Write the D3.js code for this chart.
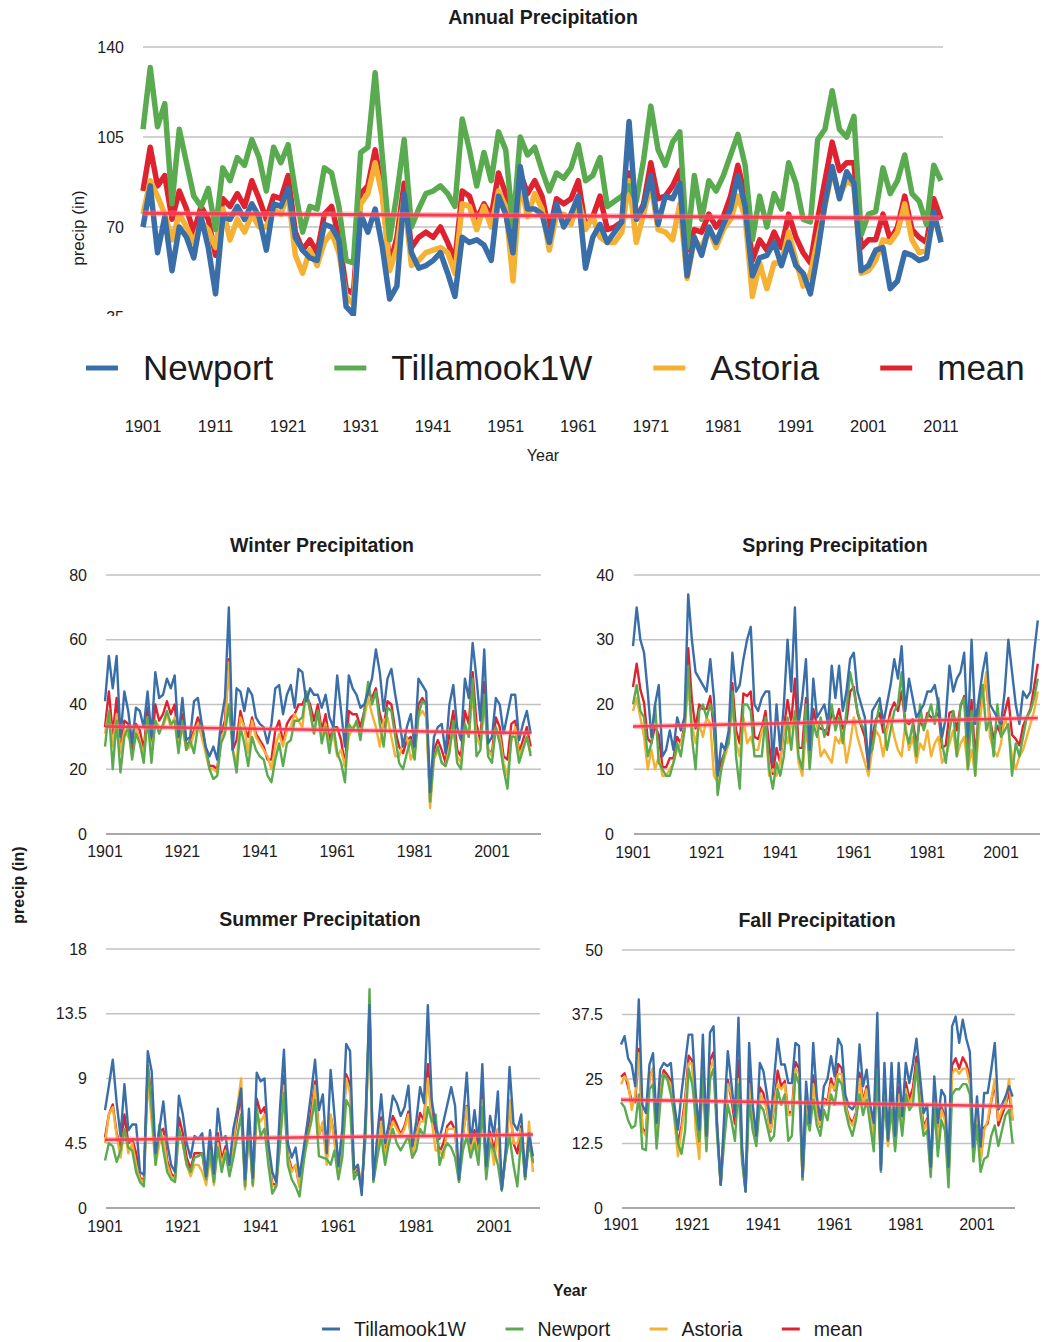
<!DOCTYPE html>
<html>
<head>
<meta charset="utf-8">
<script src="https://cdn.jsdelivr.net/npm/d3@7"></script>
<style>
body { margin: 0; background: #fff; }
text { font-family: "Liberation Sans", Arial, sans-serif; fill: #1c1c1c; }
</style>
</head>
<body>
<div class="canvas"></div>
<script>
const years = d3.range(1901, 2012)

// ---- annual data (inches) ----
const annNames = ["Newport", "Tillamook1W", "Astoria", "mean"]
const annNewport = [70,86,60,74,53,70,66,58,74,62, 44,74,73,78,73,79,74,61,79,78,
  85,66,61,58,57,71,70,65,39,36, 75,68,77,62,42,47,83,60,54,55,
  57,60,52,43,66,64,65,63,57,82, 75,60,93.5,77,77,75,64,79,70,75,
  82,54,66,71,64,68,72,111,73,78, 90,71,82,81,87,51,66,59,70,64,
  71,77,90,78,51,58,59,64,55,64, 55,52,44,60,79,93.5,81,91.5,87,53,
  55,61,62,46,49,60,59,57,58,76,64]
const annTillamook = [108,132,109,118,79,108,95,82,78,85, 69,93,88,97,94,104,97,84,101,95,
  102,84,68,78,77,93,91,78,57,56, 99,101,130,97,65,83,104,70,77,83,
  84,86,83,78,112,100,86,99,88,107, 100,70,105,98,101,92,84,91,89,93,
  102,88,90,97,78,80,82,86,80,96, 117,100,94,103,107,62,90,73,88,84,
  90,98,106,94,65,82,70,83,77,95, 87,73,72,104,108,123,108,105,113,67,
  75,76,93,83,88,98,83,80,71,94,88]
const annAstoria = [75,88,82,75,65,75,70,64,72,69, 62,77,65,73,68,75,70,70,77,75,
  83,59,52,61,55,64,68,60,43,40, 79,83,95,82,53,62,82,55,57,60,
  61,62,60,52,79,78,69,78,70,84, 78,49,88,74,83,77,61,75,75,71,
  81,69,74,66,64,64,68,88,64,75, 87,69,68,65,79,50,65,62,69,62,
  69,73,82,74,43,56,46,56,56,68, 57,47,52,65,78,92,82,88,86,52,
  53,57,65,64,68,79,65,60,61,74,65]
const annMean = [84,101,86,90,73,84,77,68,78,73, 59,81,78,83,78,88,81,73,82,81,
  90,68,61,65,60,75,78,66,46,44, 83,86,100,84,55,66,87,62,66,68,
  66,70,64,57,84,82,73,79,74,91, 83,65,91,83,88,82,68,81,79,81,
  88,70,74,82,69,70,72,91,73,79, 95,81,82,86,92,61,69,68,75,70,
  74,82,94,82,57,65,61,68,62,75, 66,60,56,73,88,103,92,95,95,62,
  65,65,75,65,70,82,69,66,64,81,73]
const annTrend = [75.3, 73.4]
const annXTicks = [1901,1911,1921,1931,1941,1951,1961,1971,1981,1991,2001,2011]
const annYTicks = [35, 70, 105, 140]

// ---- seasonal data (inches) ----
const seasNames = ["Tillamook1W", "Newport", "Astoria", "mean"]
const seasXTicks = [1901, 1921, 1941, 1961, 1981, 2001]

const winTill = [41,55,45,55,30,44,38,28,39,38, 33,44,30,50,42,43,48,45,49,30,
  42,29,30,41,42,34,27,24,27,23, 35,42,70,26,45,44,38,45,43,36,
  34,33,28,34,45,46,37,43,46,39, 51,50,41,45,43,43,39,43,36,33,
  49,38,27,49,45,43,39,40,44,48, 57,50,38,48,51,43,36,27,33,37,
  27,48,46,44,13,30,33,34,25,40, 46,33,29,48,42,59,48,35,57,28,
  30,42,40,31,37,43,43,29,34,38,31]
const winNew = [27,38,20,35,19,30,33,23,31,28, 22,36,22,35,31,34,38,34,35,25,
  35,26,29,25,33,34,27,20,17,18, 28,31,40,26,19,33,28,21,30,26,
  24,23,18,16,23,28,21,28,29,35, 35,36,44,38,31,38,28,33,25,34,
  25,22,16,34,32,35,29,38,47,40, 44,34,27,39,38,30,22,20,25,29,
  23,37,41,40,10,24,27,22,21,25, 35,22,20,34,30,48,24,26,43,24,
  22,33,28,20,14,30,30,22,26,30,24]
const winAst = [31,38,27,37,25,32,30,28,33,29, 24,36,25,35,33,33,37,33,36,27,
  33,26,27,31,34,30,25,20,20,19, 30,32,53,26,22,36,33,25,35,30,
  28,26,24,20,27,31,27,32,33,37, 35,33,44,38,31,38,30,34,27,31,
  24,26,21,30,33,34,31,36,42,37, 33,27,35,36,30,24,24,28,30,23,
  26,36,38,36,8,23,26,22,21,27, 32,24,22,33,30,43,30,27,41,26,
  24,33,30,22,18,29,33,24,27,30,25]
const winMean = [33,44,31,42,25,35,34,26,34,32, 26,39,26,40,35,37,41,37,40,27,
  37,27,29,32,36,33,26,21,21,20, 31,35,54,26,29,38,33,30,36,31,
  29,27,23,23,32,35,28,34,36,37, 40,40,43,40,35,40,32,37,29,33,
  33,29,21,38,37,37,33,38,44,42, 45,37,33,41,40,32,27,25,29,30,
  25,40,42,40,10,26,29,26,22,31, 38,26,24,38,34,50,34,29,47,26,
  25,36,33,24,23,34,35,25,29,33,27]
const winTrend = [33.2, 31.2]
const winYTicks = [0, 20, 40, 60, 80]

const sprTill = [29,35,30,28,22,15,20,23,12,13, 16,13,18,16,18,37,30,25,24,23,
  22,27,21,9,14,13,16,28,22,23, 27,30,32,20,19,21,22,22,11,20,
  13,20,30,22,35,17,21,27,13,24, 18,19,20,17,26,21,26,19,22,27,
  28,22,20,18,10,19,20,21,17,20, 23,27,24,29,19,24,21,18,19,20,
  22,22,23,20,15,18,26,22,24,25, 28,15,30,17,21,25,28,20,19,18,
  17,22,30,25,20,17,22,21,22,28,33]
const sprNew = [20,23,19,18,12,14,20,11,10,9, 9,11,14,12,16,26,15,10,19,20,
  18,20,18,6,10,13,14,22,12,7, 20,20,19,12,12,12,18,10,7,11,
  9,12,18,13,19,12,10,20,10,17, 15,18,15,17,20,16,18,14,19,25,
  22,19,17,16,12,13,17,20,18,13, 16,19,20,25,16,14,17,12,20,16,
  18,20,17,21,14,11,16,19,12,20, 21,10,19,9,20,23,16,18,12,20,
  15,16,17,9,14,12,15,18,19,21,24]
const sprAst = [19,21,18,15,10,13,10,12,9,9, 10,11,13,14,16,23,17,14,17,15,
  18,17,9,8,10,12,14,20,14,12, 18,14,15,13,13,16,17,9,10,9,
  11,17,14,17,18,11,9,16,12,17, 17,12,13,12,11,15,14,16,11,14,
  18,15,13,11,9,13,16,15,12,16, 18,15,13,12,17,13,15,11,14,13,
  16,12,14,15,11,12,14,16,12,14, 15,10,13,9,16,21,25,15,13,12,
  14,18,16,12,10,12,13,15,17,19,22]
const sprMean = [22.7,26.3,22.3,20.3,14.7,14,16.7,15.3,10.3,10.3,
  11.7,11.7,15,14,16.7,28.7,20.7,16.3,20,19.3,
  19.3,21.3,16,7.7,11.3,12.7,14.7,23.3,16,14,
  21.7,21.3,22,15,14.7,16.3,19,13.7,9.3,13.3,
  11,16.3,20.7,17.3,24,13.3,13.3,21,11.7,19.3,
  16.7,16.3,16,15.3,19,17.3,19.3,16.3,17.3,22,
  22.7,18.7,16.7,15,10.3,15,17.7,18.7,15.7,16.3,
  19,20.3,19,22,17.3,17,17.7,13.7,17.7,16.3,
  18.7,18,18,18.7,13.3,13.7,18.7,19,16,19.7,
  21.3,11.7,20.7,11.7,19,23,23,17.7,14.7,16.7,
  15.3,18.7,21,15.3,14.7,13.7,16.7,18,19.3,22.7,26.3]
const sprTrend = [16.6, 17.9]
const sprYTicks = [0, 10, 20, 30, 40]

const sumTill = [6.8,8.5,10.3,7.3,5.0,8.6,5.4,5.8,5.8,2.5,
  2.3,10.9,9.5,3.8,5.5,7.4,4.5,3.0,2.5,7.8,
  6.5,4.5,3.5,5.0,4.8,5.2,2.2,5.4,2.4,6.9,
  4.7,5.0,3.0,5.5,6.8,8.3,2.0,6.9,2.1,9.4,
  8.8,9.0,4.5,2.5,1.8,7.0,11.0,4.5,3.5,4.2,
  2.2,4.0,5.9,8.0,10.3,6.8,7.9,3.8,9.6,6.4,
  2.9,5.5,11.4,10.9,2.7,3.0,0.9,6.5,14.1,2.0,
  5.0,7.9,4.5,5.9,7.8,7.3,6.4,7.0,8.5,4.3,
  6.0,8.4,7.3,14.1,7.5,5.7,4.8,6.0,7.2,8.4,
  7.1,2.0,6.0,9.4,4.5,6.8,4.5,10.0,2.9,6.4,
  5.0,8.1,1.3,4.0,9.8,5.9,5.4,6.5,2.2,5.2,3.6]
const sumNew = [3.3,4.5,4.3,3.2,4.0,5.5,4.2,4.0,2.5,1.8,
  1.5,9.8,7.0,3.0,5.8,4.0,2.5,2.0,1.8,5.5,
  4.5,3.0,2.5,3.5,3.6,3.8,2.0,4.0,1.8,4.2,
  2.5,3.8,2.2,3.5,5.0,6.5,1.5,5.5,1.6,7.0,
  5.0,5.5,3.0,1.0,1.5,4.5,8.0,3.0,2.0,1.5,
  0.8,3.0,5.0,6.0,7.5,3.6,3.5,3.4,3.0,4.0,
  2.0,3.5,7.5,7.0,2.0,2.5,1.5,5.0,15.2,1.8,
  3.5,5.0,3.0,4.5,5.5,4.5,4.0,4.5,5.0,3.5,
  4.0,5.5,5.0,7.0,6.0,6.5,3.0,4.0,4.5,4.2,
  3.5,1.8,4.0,5.0,3.5,4.5,3.0,7.0,2.0,4.5,
  4.0,3.0,1.2,3.5,5.0,3.0,1.5,5.0,2.0,4.5,3.2]
const sumAst = [4.5,6.5,7.0,5.0,3.5,5.5,3.8,4.5,3.0,2.0,
  1.8,9.0,6.0,3.0,4.5,5.0,3.0,2.2,2.0,5.5,
  4.5,3.0,2.2,3.0,3.0,2.5,1.6,3.5,1.6,4.5,
  3.0,4.0,2.5,4.5,7.0,9.0,1.3,5.5,1.5,6.5,
  6.0,6.5,3.5,1.5,1.5,4.5,8.5,3.5,2.5,3.0,
  1.5,3.5,4.5,6.0,8.5,5.0,6.0,3.0,6.5,4.5,
  2.5,4.5,9.0,8.0,2.5,3.0,1.5,6.0,12.0,2.0,
  4.0,6.0,3.5,5.0,6.0,5.5,5.0,5.5,6.5,3.5,
  5.0,6.0,6.0,9.0,6.0,4.0,4.0,3.5,5.5,5.5,
  5.5,2.0,5.0,7.0,4.0,5.0,3.5,7.5,2.5,5.0,
  3.0,5.5,1.5,3.5,7.5,4.5,4.5,5.5,2.0,6.0,2.5]
const sumMean = [4.9,6.5,7.2,5.2,4.2,6.5,4.5,4.8,3.8,2.1,
  1.9,9.9,7.5,3.3,5.3,5.5,3.3,2.4,2.1,6.3,
  5.2,3.5,2.7,3.8,3.8,3.8,1.9,4.3,1.9,5.2,
  3.4,4.3,2.6,4.5,6.3,7.9,1.6,6.0,1.7,7.6,
  6.6,7.0,3.7,1.7,1.6,5.3,9.2,3.7,2.7,2.9,
  1.5,3.5,5.1,6.7,8.8,5.1,5.8,3.4,6.4,5.0,
  2.5,4.5,9.3,8.6,2.4,2.8,1.3,5.8,13.8,1.9,
  4.2,6.3,3.7,5.1,6.4,5.8,5.1,5.7,6.7,3.8,
  5.0,6.6,6.1,10.0,6.5,5.4,3.9,4.5,5.7,6.0,
  5.4,1.9,5.0,7.1,4.0,5.4,3.7,8.2,2.5,5.3,
  4.0,5.5,1.3,3.7,7.4,4.5,3.8,5.7,2.1,5.2,3.1]
const sumTrend = [4.75, 5.1]
const sumYTicks = [0, 4.5, 9, 13.5, 18]

const fallTill = [31.7,33.3,29.0,27.8,23.6,40.4,20.0,18.4,27.8,30.0,
  16.5,26.8,28.1,27.5,28.1,20.0,15.2,22.3,28.0,33.6,
  33.6,22.0,15.2,33.6,14.0,34.0,35.2,16.2,4.5,18.0,
  30.4,24.2,17.8,36.9,12.0,3.2,32.0,20.0,14.0,28.1,
  26.5,22.0,16.5,25.0,32.8,27.8,27.8,24.2,24.2,32.0,
  31.4,6.1,24.5,16.5,32.0,21.6,17.1,23.6,25.0,29.4,
  25.5,32.8,31.4,22.0,19.7,19.1,20.4,31.7,23.6,26.8,
  20.0,16.5,37.8,7.4,28.1,13.3,28.1,14.0,28.1,17.8,
  28.1,24.2,28.0,32.8,25.5,18.4,20.0,8.0,25.5,16.5,
  22.9,21.6,8.0,35.2,37.1,32.0,36.5,32.8,30.2,11.9,
  21.6,11.9,22.3,22.3,26.8,32.0,19.1,20.0,21.6,23.6,21.6]
const fallNew = [20.5,19.5,17,15.5,16,22,11.5,11.2,23,24,
  11.5,20,26,25,22,18,12.5,10.5,15,27,
  24,18,13,26,11,25,27,14,4.5,13,
  20,17,13,24,9,3.2,21,15,12,20,
  19,16,13,14,23,20,22,13,14,26,
  24,5.5,18,15,21,16,14,19,17,22,
  20,25,24,19,16,14,17,22,18,21,
  16,11,27,7,21,13,19,11,20,14,
  22,19,20,28,19,14,15,6,20,10,
  17,15,4,22,23,23,24,24,22,9,
  16,7,9.5,10,14,16,12,15,18,19,12.5]
const fallAst = [24,25.5,24.5,19,22,30,15,14,25,27,
  14,24,26,25,24,17,10,15,20,28,
  28,15,9.5,28,11.5,27,28.5,16,4.5,16,
  24,22,18,25,10,3.2,24,17,13,22,
  21,19,15,20,24,23,24,18,18,27,
  26,5.5,22,16,24,18,16,21,20,24,
  23,26,26,20,17,16,18,25,20,23,
  18,14,27,10,22,12,20,12,22,15,
  23,20,22,27,21,15,17,7,21,13,
  19,17,6,26,27,26,27,27,24,11,
  19,9,15,17,21,25,17,19,20,25,17]
const fallMean = [25.4,26.1,23.5,20.8,20.5,30.8,15.5,14.5,25.3,27.0,
  14.0,23.6,26.7,25.8,24.7,18.3,12.6,15.9,21.0,29.5,
  28.5,18.3,12.6,29.2,12.2,28.7,30.2,15.4,4.5,15.7,
  24.8,21.1,16.3,28.6,10.3,3.2,25.7,17.3,13.0,23.4,
  22.2,19.0,14.8,19.7,26.6,23.6,24.6,18.4,18.7,28.3,
  27.1,5.7,21.5,15.8,25.7,18.5,15.7,21.2,20.7,25.1,
  22.8,27.9,27.1,20.3,17.6,16.4,18.5,26.2,20.5,23.6,
  18.0,13.8,30.6,8.1,23.7,12.8,22.4,12.3,23.4,15.6,
  24.4,21.1,23.3,29.3,21.8,15.8,17.3,7.0,22.2,13.2,
  19.6,17.9,6.0,27.7,29.0,27.0,29.2,27.9,25.4,10.6,
  18.9,9.3,15.6,16.4,20.6,24.3,16.0,18.0,19.9,22.5,17.0]
const fallTrend = [21.0, 19.7]
const fallYTicks = [0, 12.5, 25, 37.5, 50]

// ---- styling ----
const blue = "#3a6ea8", green = "#5aab4f", orange = "#f4b133", red = "#de2230"
const gridColor = "#c2c2c2"

const svg = d3.select(".canvas")
    .append("svg")
    .attr("width", 1043)
    .attr("height", 1342)

function drawTrend(g, x, y, trend, w) {
    const pts = [[1901, trend[0]], [2011, trend[1]]]
    const line = d3.line().x(d => x(d[0])).y(d => y(d[1]))
    g.append("path").attr("d", line(pts)).attr("fill", "none")
        .attr("stroke", "#ff7f8c").attr("stroke-opacity", 0.45).attr("stroke-width", w + 3)
    g.append("path").attr("d", line(pts)).attr("fill", "none")
        .attr("stroke", "#fb3a4e").attr("stroke-width", w)
}

// =============== annual chart ===============
const ax = d3.scaleLinear().domain([1901, 2011]).range([143, 941])
const ay = d3.scaleLinear().domain([35, 140]).range([317, 47])

svg.append("text").attr("x", 543).attr("y", 17).attr("dy", "0.35em")
    .attr("text-anchor", "middle").style("font-weight", "bold").style("font-size", "19.5px")
    .text("Annual Precipitation")

svg.append("text").attr("transform", "translate(78,228) rotate(-90)")
    .attr("text-anchor", "middle").attr("dy", "0.35em").style("font-size", "17px")
    .text("precip (in)")

svg.selectAll(".agrid").data(annYTicks).enter().append("line")
    .attr("x1", 143).attr("x2", 943)
    .attr("y1", d => ay(d)).attr("y2", d => ay(d))
    .attr("stroke", gridColor).attr("stroke-width", 1.5)

svg.selectAll(".aylab").data(annYTicks).enter().append("text")
    .attr("x", 124).attr("y", d => ay(d)).attr("dy", "0.35em")
    .attr("text-anchor", "end").style("font-size", "16px")
    .text(d => d)

svg.append("clipPath").attr("id", "annClip")
    .append("rect").attr("x", 0).attr("y", 0).attr("width", 1043).attr("height", 316)

const annPlot = svg.append("g").attr("clip-path", "url(#annClip)")
const annSeries = [annNewport, annTillamook, annAstoria, annMean]
const annColors = [blue, green, orange, red]
const annLine = d3.line().x((d, i) => ax(years[i])).y(d => ay(d))

// first series drawn last so it sits on top
d3.range(annSeries.length).reverse().forEach(k => {
    annPlot.append("path").datum(annSeries[k])
        .attr("d", annLine).attr("fill", "none")
        .attr("stroke", annColors[k]).attr("stroke-width", 5.5)
        .attr("stroke-linejoin", "round")
})
drawTrend(annPlot, ax, ay, annTrend, 3)

// white legend band sits over the bottom of the plot
svg.append("rect").attr("x", 0).attr("y", 316).attr("width", 1043).attr("height", 90).attr("fill", "#fff")

let lx = 86
annNames.forEach((name, k) => {
    svg.append("line").attr("x1", lx).attr("x2", lx + 32).attr("y1", 368).attr("y2", 368)
        .attr("stroke", annColors[k]).attr("stroke-width", 5)
    const t = svg.append("text").attr("x", lx + 57).attr("y", 368).attr("dy", "0.35em")
        .style("font-size", "35px").text(name)
    lx = lx + 57 + t.node().getComputedTextLength() + 61
})

svg.selectAll(".axlab").data(annXTicks).enter().append("text")
    .attr("x", d => ax(d)).attr("y", 426).attr("dy", "0.35em")
    .attr("text-anchor", "middle").style("font-size", "16.5px")
    .text(d => d)

svg.append("text").attr("x", 543).attr("y", 455).attr("dy", "0.35em")
    .attr("text-anchor", "middle").style("font-size", "16px").text("Year")

// =============== seasonal charts ===============
const seasColors = [blue, green, orange, red]
const panels = [
    { title: "Winter Precipitation", series: [winTill, winNew, winAst, winMean], trend: winTrend,
      ticks: winYTicks, xr: [105, 492], gx: [106, 541], yr: [834, 575], lab: 87, xlabY: 851, tx: 322, ty: 545 },
    { title: "Spring Precipitation", series: [sprTill, sprNew, sprAst, sprMean], trend: sprTrend,
      ticks: sprYTicks, xr: [633, 1001], gx: [634, 1040], yr: [834, 575], lab: 614, xlabY: 852, tx: 835, ty: 545 },
    { title: "Summer Precipitation", series: [sumTill, sumNew, sumAst, sumMean], trend: sumTrend,
      ticks: sumYTicks, xr: [105, 494], gx: [106, 540], yr: [1208, 949], lab: 87, xlabY: 1226, tx: 320, ty: 919 },
    { title: "Fall Precipitation", series: [fallTill, fallNew, fallAst, fallMean], trend: fallTrend,
      ticks: fallYTicks, xr: [621, 977], gx: [622, 1015], yr: [1208, 950], lab: 603, xlabY: 1224, tx: 817, ty: 920 }
]

panels.forEach(p => {
    const g = svg.append("g")
    const x = d3.scaleLinear().domain([1901, 2001]).range(p.xr)
    const y = d3.scaleLinear().domain([0, d3.max(p.ticks)]).range(p.yr)

    g.append("text").attr("x", p.tx).attr("y", p.ty).attr("dy", "0.35em")
        .attr("text-anchor", "middle").style("font-weight", "bold").style("font-size", "19.5px")
        .text(p.title)

    g.selectAll(".grid").data(p.ticks).enter().append("line")
        .attr("x1", p.gx[0]).attr("x2", p.gx[1])
        .attr("y1", d => y(d)).attr("y2", d => y(d))
        .attr("stroke", d => d === 0 ? "#a8a8a8" : gridColor)
        .attr("stroke-width", d => d === 0 ? 2 : 1.5)

    g.selectAll(".ylab").data(p.ticks).enter().append("text")
        .attr("x", p.lab).attr("y", d => y(d)).attr("dy", "0.35em")
        .attr("text-anchor", "end").style("font-size", "16px")
        .text(d => d)

    g.selectAll(".xlab").data(seasXTicks).enter().append("text")
        .attr("x", d => x(d)).attr("y", p.xlabY).attr("dy", "0.35em")
        .attr("text-anchor", "middle").style("font-size", "16px")
        .text(d => d)

    const line = d3.line().x((d, i) => x(years[i])).y(d => y(d))
    d3.range(p.series.length).reverse().forEach(k => {
        g.append("path").datum(p.series[k])
            .attr("d", line).attr("fill", "none")
            .attr("stroke", seasColors[k]).attr("stroke-width", 2.4)
            .attr("stroke-linejoin", "round")
    })
    drawTrend(g, x, y, p.trend, 2.5)
})

svg.append("text").attr("transform", "translate(18,885) rotate(-90)")
    .attr("text-anchor", "middle").attr("dy", "0.35em")
    .style("font-weight", "bold").style("font-size", "16px")
    .text("precip (in)")

svg.append("text").attr("x", 570).attr("y", 1290).attr("dy", "0.35em")
    .attr("text-anchor", "middle").style("font-weight", "bold").style("font-size", "16px")
    .text("Year")

let bx = 322
seasNames.forEach((name, k) => {
    svg.append("line").attr("x1", bx).attr("x2", bx + 18).attr("y1", 1329).attr("y2", 1329)
        .attr("stroke", seasColors[k]).attr("stroke-width", 3)
    const t = svg.append("text").attr("x", bx + 32).attr("y", 1329).attr("dy", "0.35em")
        .style("font-size", "19.5px").text(name)
    bx = bx + 32 + t.node().getComputedTextLength() + 39.5
})
</script>
</body>
</html>
